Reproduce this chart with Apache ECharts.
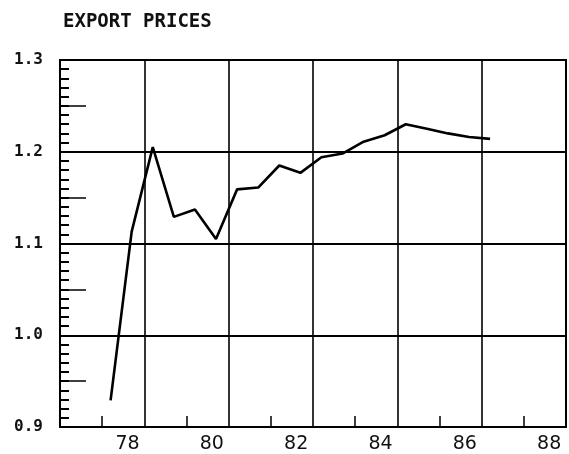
<!DOCTYPE html>
<html>
<head>
<meta charset="utf-8">
<script src="https://cdn.jsdelivr.net/npm/echarts@6/dist/echarts.min.js"></script>
<style>
  html, body { margin: 0; padding: 0; background: #fff; }
  #main { width: 569px; height: 454px; }
</style>
</head>
<body>
<div id="main"></div>
<script>
// export price index, half-yearly points
var years = [77.6, 78.1, 78.6, 79.1, 79.6, 80.1, 80.6, 81.1, 81.6, 82.1,
             82.6, 83.1, 83.6, 84.1, 84.6, 85.1, 85.6, 86.1, 86.6];
var prices = [0.929, 1.113, 1.205, 1.129, 1.137, 1.105, 1.159, 1.161, 1.185, 1.177,
              1.194, 1.198, 1.211, 1.218, 1.230, 1.225, 1.220, 1.216, 1.214];

var xLabels = [78, 80, 82, 84, 86, 88];
var xMinorTicks = [77.4, 79.4, 81.4, 83.4, 85.4, 87.4];
var yHalfTicks = [0.95, 1.05, 1.15, 1.25];

var myChart = echarts.init(document.getElementById('main'));

var points = years.map(function (y, i) {
    return [y, prices[i]];
});

myChart.setOption({
    animation: false,
    backgroundColor: '#fff',
    title: {
        text: 'EXPORT PRICES',
        left: 58,
        top: 8,
        textStyle: {
            fontFamily: 'DejaVu Sans Mono',
            fontWeight: 'bold',
            fontSize: 19,
            color: '#111'
        }
    },
    grid: {
        left: 60,
        right: 3,
        top: 60,
        bottom: 26,
        show: true,
        borderColor: '#000',
        borderWidth: 2
    },
    xAxis: [{
        // gridlines + year labels
        type: 'value',
        min: 76.4,
        max: 88.4,
        interval: 2,
        axisLine: { show: true, lineStyle: { color: '#000', width: 2 } },
        splitLine: { show: true, lineStyle: { color: '#000', width: 1.6 } },
        axisTick: { show: false },
        axisLabel: {
            customValues: xLabels,
            margin: 8,
            fontFamily: 'DejaVu Sans',
            fontSize: 19,
            color: '#111',
            formatter: function (v) { return String(Math.round(v)); }
        }
    }, {
        // small ticks between gridlines
        type: 'value',
        position: 'bottom',
        min: 76.4,
        max: 88.4,
        axisLine: { show: false },
        splitLine: { show: false },
        axisLabel: { show: false },
        axisTick: {
            show: true,
            inside: true,
            length: 11,
            customValues: xMinorTicks,
            lineStyle: { color: '#000', width: 1.5 }
        }
    }],
    yAxis: [{
        type: 'value',
        min: 0.9,
        max: 1.3,
        interval: 0.1,
        axisLine: { show: true, lineStyle: { color: '#000', width: 2 } },
        splitLine: { show: true, lineStyle: { color: '#000', width: 2 } },
        axisTick: { show: false, inside: true },
        minorTick: {
            show: true,
            splitNumber: 10,
            length: 9,
            lineStyle: { color: '#000', width: 2 }
        },
        axisLabel: {
            margin: 17,
            fontFamily: 'DejaVu Sans Mono',
            fontWeight: 'bold',
            fontSize: 16,
            color: '#111',
            formatter: function (v) { return v.toFixed(1); }
        }
    }, {
        // longer ticks at the half steps
        type: 'value',
        position: 'left',
        min: 0.9,
        max: 1.3,
        axisLine: { show: false },
        splitLine: { show: false },
        axisLabel: { show: false },
        axisTick: {
            show: true,
            inside: true,
            length: 26,
            customValues: yHalfTicks,
            lineStyle: { color: '#000', width: 1.5 }
        }
    }],
    series: [{
        type: 'line',
        xAxisIndex: 0,
        yAxisIndex: 0,
        data: points,
        symbol: 'none',
        lineStyle: { color: '#000', width: 2.6 }
    }]
});
</script>
</body>
</html>
